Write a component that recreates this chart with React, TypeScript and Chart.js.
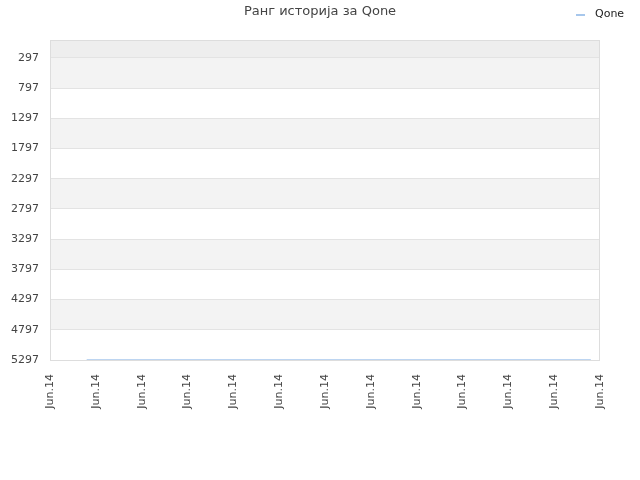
import React, { useEffect, useRef } from 'react';
import { Chart, registerables } from 'chart.js';

Chart.register(...registerables);

const titleText = 'Ранг историја за Qone';
const seriesName = 'Qone';
const xLabels = ['Jun.14', 'Jun.14', 'Jun.14', 'Jun.14', 'Jun.14', 'Jun.14', 'Jun.14', 'Jun.14', 'Jun.14', 'Jun.14', 'Jun.14', 'Jun.14', 'Jun.14'];
const yTicks = [297, 797, 1297, 1797, 2297, 2797, 3297, 3797, 4297, 4797, 5297];
const rankX = [0.8, 1.8, 2.8, 3.8, 4.8, 5.8, 6.8, 7.8, 8.8, 9.8, 10.8, 11.8];
const rankValues = [5297, 5297, 5297, 5297, 5297, 5297, 5297, 5297, 5297, 5297, 5297, 5297];

const FONT = '"DejaVu Sans", sans-serif';
const LINE_COLOR = '#a7c7ec';

const frame = {
    id: 'frame',
    beforeDraw(chart: any) {
        const { ctx, chartArea: a, scales } = chart;
        const y = scales.y;
        ctx.save();
        // top band above first tick
        ctx.fillStyle = '#eeeeee';
        ctx.fillRect(a.left, a.top, a.right - a.left, y.getPixelForValue(yTicks[0]) - a.top);
        ctx.fillStyle = '#f3f3f3';
        for (let i = 0; i < yTicks.length - 1; i += 2) {
            const t = y.getPixelForValue(yTicks[i]);
            const b = y.getPixelForValue(yTicks[i + 1]);
            ctx.fillRect(a.left, t, a.right - a.left, b - t);
        }
        ctx.restore();
    },
    beforeDatasetsDraw(chart: any) {
        const { ctx, chartArea: a } = chart;
        ctx.save();
        ctx.strokeStyle = '#dddddd';
        ctx.lineWidth = 1;
        ctx.strokeRect(a.left + 0.5, a.top + 0.5, a.right - a.left - 1, a.bottom - a.top);
        ctx.restore();
    },
    afterDraw(chart: any) {
        const { ctx, width } = chart;
        ctx.save();
        ctx.fillStyle = '#444444';
        ctx.font = '13px ' + FONT;
        ctx.textAlign = 'center';
        ctx.textBaseline = 'middle';
        ctx.fillText(titleText, width / 2, 12);
        ctx.strokeStyle = LINE_COLOR;
        ctx.lineWidth = 2;
        ctx.beginPath();
        ctx.moveTo(576, 15);
        ctx.lineTo(585, 15);
        ctx.stroke();
        ctx.fillStyle = '#222222';
        ctx.font = '11px ' + FONT;
        ctx.textAlign = 'left';
        ctx.fillText(seriesName, 595, 14);
        ctx.restore();
    },
};

const RankChart: React.FC = () => {
    const canvasRef = useRef<HTMLCanvasElement | null>(null);
    const chartRef = useRef<Chart | null>(null);

    useEffect(() => {
        if (!canvasRef.current) return;
        const ctx = canvasRef.current.getContext('2d');
        if (!ctx) return;
        if (chartRef.current) chartRef.current.destroy();

        chartRef.current = new Chart(ctx, {
            type: 'line',
            data: {
                datasets: [
                    {
                        label: seriesName,
                        data: rankX.map((x, i) => ({ x, y: rankValues[i] })),
                        borderColor: LINE_COLOR,
                        borderWidth: 1.5,
                        pointRadius: 0,
                        fill: false,
                        tension: 0,
                    },
                ],
            },
            options: {
                responsive: false,
                animation: false,
                layout: { padding: { top: 40, right: 40, left: 0, bottom: 0 } },
                scales: {
                    x: {
                        type: 'linear',
                        min: 0,
                        max: 12,
                        afterBuildTicks: (scale: any) => {
                            scale.ticks = xLabels.map((_, i) => ({ value: i }));
                        },
                        afterFit: (scale: any) => {
                            scale.height = 120;
                        },
                        grid: { display: false },
                        border: { display: false },
                        ticks: {
                            autoSkip: false,
                            minRotation: 90,
                            maxRotation: 90,
                            padding: 6,
                            color: '#444444',
                            font: { family: FONT, size: 11 },
                            callback: (v: any) => xLabels[v] ?? '',
                        },
                    },
                    y: {
                        type: 'linear',
                        reverse: true,
                        min: -1,
                        max: 5297,
                        afterBuildTicks: (scale: any) => {
                            scale.ticks = yTicks.map((v) => ({ value: v }));
                        },
                        afterFit: (scale: any) => {
                            scale.width = 50;
                        },
                        grid: { color: '#e3e3e3', drawTicks: false },
                        border: { display: false },
                        ticks: {
                            padding: 11,
                            color: '#444444',
                            font: { family: FONT, size: 11 },
                            callback: (v: any) => String(v),
                        },
                    },
                },
                plugins: {
                    legend: { display: false },
                    title: { display: false },
                    tooltip: { enabled: false },
                },
            },
            plugins: [frame],
        });

        return () => {
            if (chartRef.current) {
                chartRef.current.destroy();
                chartRef.current = null;
            }
        };
    }, []);

    return <canvas ref={canvasRef} width={640} height={480} style={{ display: 'block' }}></canvas>;
};

export default function App() {
    return (
        <div style={{ position: 'fixed', left: 0, top: 0, width: 640, height: 480, background: '#fff' }}>
            <RankChart />
        </div>
    );
}
